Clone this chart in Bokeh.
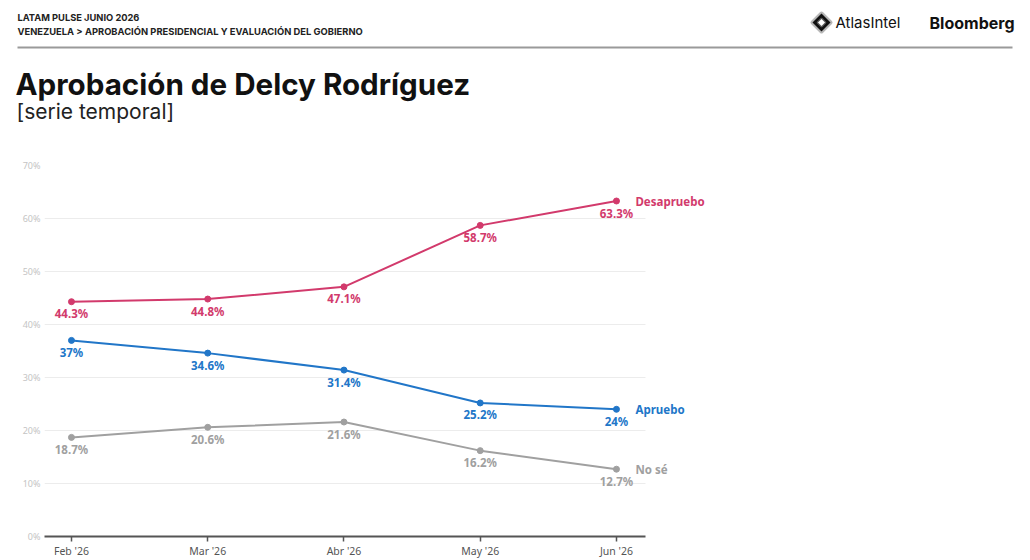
from bokeh.plotting import figure
from bokeh.layouts import column
from bokeh.models import (ColumnDataSource, LabelSet, Label, Range1d, FixedTicker,
                          PolyAnnotation, BoxAnnotation)
from bokeh.core.properties import value
from bokeh.embed import file_html
from bokeh.resources import INLINE

# --- data -------------------------------------------------------------
months = ["Feb '26", "Mar '26", "Abr '26", "May '26", "Jun '26"]
desapruebo = [44.3, 44.8, 47.1, 58.7, 63.3]
apruebo = [37.0, 34.6, 31.4, 25.2, 24.0]
no_se = [18.7, 20.6, 21.6, 16.2, 12.7]
series_names = ["Desapruebo", "Apruebo", "No sé"]
y_ticks = [0, 10, 20, 30, 40, 50, 60, 70]

COLORS = {"Desapruebo": "#d23a6c", "Apruebo": "#2176c8", "No sé": "#a0a0a0"}

W = 1030
HEAD_H = 140
CHART_H = 420

# --- header strip: page-pixel coordinates ------------------------------
head = figure(width=W, height=HEAD_H, output_backend="svg", toolbar_location=None,
              min_border=0, x_range=Range1d(0, W), y_range=Range1d(HEAD_H, 0),
              x_axis_location=None, y_axis_location=None)
head.outline_line_color = None
head.grid.visible = False
head.frame_align = False


def head_label(text, x, y, size, color="#111111", font="Inter", style="normal"):
    head.add_layout(Label(x=x, y=y, text=text, text_align="left",
                          text_baseline="middle", text_font=font,
                          text_font_size=size, text_font_style=style,
                          text_color=color))


head_label("LATAM PULSE JUNIO 2026", 17, 16.5, "9.3px", "#222222", style="bold")
head_label("VENEZUELA > APROBACIÓN PRESIDENCIAL Y EVALUACIÓN DEL GOBIERNO",
           17, 31, "9.4px", "#222222", style="bold")
head_label("Aprobación de Delcy Rodríguez", 15, 83, "29.6px", "#111111", style="bold")
head_label("[serie temporal]", 16, 111, "21px", "#222222")
head_label("AtlasIntel", 835, 22, "15px", "#111111")
head_label("Bloomberg", 929, 22, "16px", "#111111", style="bold")

# separator rule under the header
head.add_layout(BoxAnnotation(left=17, right=1012, top=46, bottom=48,
                              fill_color="#9a9a9a", fill_alpha=1, line_color=None))

# AtlasIntel mark: rounded diamond ring
cx, cy, r_out, r_in = 821, 22, 9, 3.5
head.add_layout(PolyAnnotation(xs=[cx, cx + r_out, cx, cx - r_out],
                               ys=[cy - r_out, cy, cy + r_out, cy],
                               fill_color="#111111", fill_alpha=1,
                               line_color="#111111", line_width=4, line_join="round"))
head.add_layout(PolyAnnotation(xs=[cx, cx + r_in, cx, cx - r_in],
                               ys=[cy - r_in, cy, cy + r_in, cy],
                               fill_color="white", fill_alpha=1,
                               line_color="white", line_width=2.5, line_join="round"))

# --- chart -------------------------------------------------------------
X0, X1 = -0.198, 4.213          # extent of the gridded plot area
XR = 7.039                      # free room on the right for series names

p = figure(width=W, height=CHART_H, output_backend="svg", toolbar_location=None,
           min_border_left=44, min_border_right=0,
           min_border_top=25, min_border_bottom=22,
           x_range=Range1d(X0, XR), y_range=Range1d(0, 70))
p.outline_line_color = None
p.frame_align = False

p.yaxis.ticker = FixedTicker(ticks=y_ticks)
p.yaxis.major_label_overrides = {t: f"{t}%" for t in y_ticks}
p.yaxis.axis_line_color = None
p.yaxis.major_tick_line_color = None
p.yaxis.major_tick_out = 0
p.yaxis.minor_tick_line_color = None
p.yaxis.major_label_text_color = "#c4c4c4"
p.yaxis.major_label_text_font = "Noto Sans"
p.yaxis.major_label_text_font_size = "9px"
p.yaxis.major_label_standoff = 4

xs = list(range(len(months)))
p.xaxis.ticker = FixedTicker(ticks=xs)
p.xaxis.major_label_overrides = {i: m for i, m in enumerate(months)}
p.xaxis.bounds = (X0, X1)
p.xaxis.axis_line_color = "#555555"
p.xaxis.axis_line_width = 2
p.xaxis.major_tick_line_color = "#555555"
p.xaxis.major_tick_line_width = 1.5
p.xaxis.major_tick_in = 0
p.xaxis.major_tick_out = 5
p.xaxis.minor_tick_line_color = None
p.xaxis.major_label_text_color = "#555555"
p.xaxis.major_label_text_font = "Noto Sans"
p.xaxis.major_label_text_font_size = "10.5px"
p.xaxis.major_label_standoff = 2

p.xgrid.grid_line_color = None
p.ygrid.ticker = FixedTicker(ticks=y_ticks)
p.ygrid.grid_line_color = "#ececec"
p.ygrid.grid_line_width = 1

# keep the horizontal grid inside the gridded area
p.add_layout(BoxAnnotation(left=X1, right=XR, fill_color="white", fill_alpha=1,
                           line_color=None, level="underlay"))

for name, vals in zip(series_names, [desapruebo, apruebo, no_se]):
    c = COLORS[name]
    src = ColumnDataSource(dict(x=xs, y=vals, lab=[f"{v:g}%" for v in vals]))
    p.line("x", "y", source=src, line_color=c, line_width=2)
    p.scatter("x", "y", source=src, size=6, fill_color=c, line_color=c)
    p.add_layout(LabelSet(x="x", y="y", text="lab", source=src,
                          text_align="center", text_baseline="middle",
                          y_offset=-12, text_color=c,
                          text_font=value("Noto Sans"),
                          text_font_style=value("bold"),
                          text_font_size=value("11.5px")))
    end = ColumnDataSource(dict(x=[xs[-1]], y=[vals[-1]], t=[name]))
    p.add_layout(LabelSet(x="x", y="y", text="t", source=end,
                          x_offset=19, text_align="left", text_baseline="middle",
                          text_color=c, text_font=value("Noto Sans"),
                          text_font_style=value("bold"),
                          text_font_size=value("11.5px")))

layout = column(head, p, spacing=0)
open("out.html", "w").write(file_html(layout, INLINE))
